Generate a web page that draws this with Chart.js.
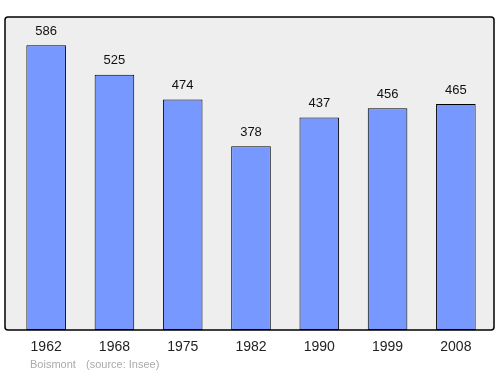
<!DOCTYPE html>
<html lang="en">
<head>
    <meta charset="UTF-8" />
    <title>Boismont</title>
    <script src="https://cdn.jsdelivr.net/npm/chart.js"></script>
    <style>
        body { margin: 0; background: #fff; }
        #wrap { width: 500px; height: 374px; }
    </style>
</head>
<body>
    <div id="wrap"><canvas id="chart" width="500" height="374"></canvas></div>
    <script>
        const years = ['1962', '1968', '1975', '1982', '1990', '1999', '2008'];
        const population = [586, 525, 474, 378, 437, 456, 465];
        const yMax = 644;
        const commune = 'Boismont';
        const source = '(source: Insee)';

        // frame, value labels, year labels and footer
        const decor = {
            id: 'decor',
            beforeDatasetsDraw(chart) {
                const { ctx, chartArea: a } = chart;
                const l = a.left - 7, t = a.top, r = a.right + 4, b = a.bottom;
                ctx.save();
                ctx.beginPath();
                ctx.roundRect(l, t, r - l, b - t, 3);
                ctx.fillStyle = '#eeeeee';
                ctx.fill();
                ctx.restore();
            },
            afterDatasetsDraw(chart) {
                const { ctx, chartArea: a } = chart;
                const l = a.left - 7, t = a.top, r = a.right + 4, b = a.bottom;
                ctx.save();
                ctx.beginPath();
                ctx.roundRect(l, t, r - l, b - t, 3);
                ctx.strokeStyle = '#000';
                ctx.lineWidth = 1.5;
                ctx.stroke();

                const meta = chart.getDatasetMeta(0);
                ctx.textAlign = 'center';
                ctx.textBaseline = 'middle';
                ctx.fillStyle = '#111';
                ctx.font = '13px "Liberation Sans", Arial, sans-serif';
                meta.data.forEach((bar, i) => {
                    ctx.fillText(population[i], bar.x, bar.y - 14);
                });
                ctx.font = '14px "Liberation Sans", Arial, sans-serif';
                ctx.fillStyle = '#222';
                meta.data.forEach((bar, i) => {
                    ctx.fillText(years[i], bar.x, b + 17);
                });
                ctx.font = '11px "Liberation Sans", Arial, sans-serif';
                ctx.fillStyle = '#aaaaaa';
                ctx.textAlign = 'left';
                ctx.fillText(commune, 30, b + 35);
                ctx.fillText(source, 86, b + 35);
                ctx.restore();
            }
        };

        new Chart(document.getElementById('chart'), {
            type: 'bar',
            data: {
                labels: years,
                datasets: [{
                    data: population,
                    backgroundColor: '#7799ff',
                    borderColor: '#000',
                    borderWidth: 1,
                    borderSkipped: false,
                    barPercentage: 0.58,
                    categoryPercentage: 1
                }]
            },
            options: {
                responsive: false,
                animation: false,
                layout: { padding: { left: 12, right: 10, top: 17, bottom: 44 } },
                plugins: { legend: { display: false }, tooltip: { enabled: false } },
                scales: {
                    x: { display: false },
                    y: { display: false, min: 0, max: yMax }
                }
            },
            plugins: [decor]
        });
    </script>
</body>
</html>
